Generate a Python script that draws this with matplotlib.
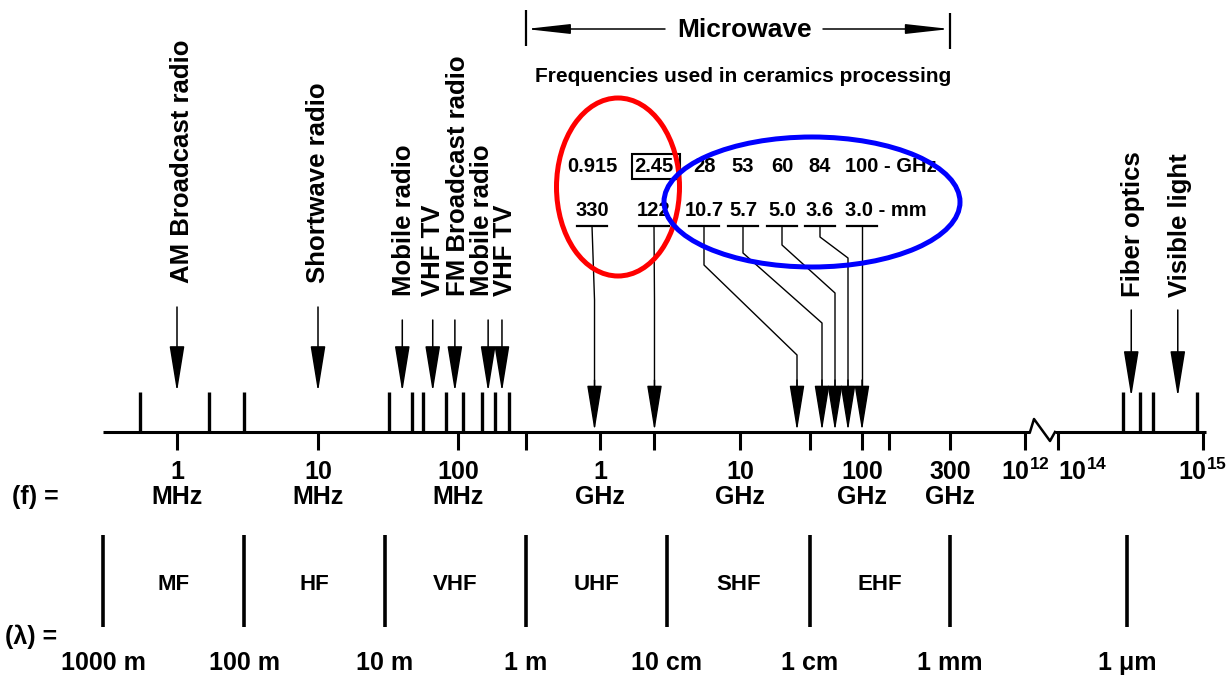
import numpy as np
import matplotlib
matplotlib.use('Agg')
import matplotlib.pyplot as plt
from matplotlib.patches import Ellipse, Rectangle

plt.rcParams['font.family'] = ['Liberation Sans', 'DejaVu Sans']
plt.rcParams['font.weight'] = 'bold'
plt.rcParams['mathtext.fontset'] = 'custom'
plt.rcParams['mathtext.rm'] = 'Liberation Sans:bold'
plt.rcParams['mathtext.default'] = 'rm'

# ---- data ----
services = ['AM Broadcast radio', 'Shortwave radio', 'Mobile radio', 'VHF TV',
            'FM Broadcast radio', 'Mobile radio', 'VHF TV', 'Fiber optics', 'Visible light']
service_hz = [1e6, 1e7, 4.0e7, 6.6e7, 9.5e7, 1.63e8, 2.04e8, 3.2e14, 6.7e14]

band_edge_hz = [5.5e5, 1.7e6, 3.0e6, 3.2e7, 4.7e7, 5.6e7, 8.2e7, 1.08e8, 1.48e8,
                1.82e8, 2.29e8, 2.8e14, 3.7e14, 4.5e14, 9.1e14]

heating_ghz = [0.915, 2.45, 28, 53, 60, 84, 100]
heating_mm = ['330', '122', '10.7', '5.7', '5.0', '3.6', '3.0']

tick_hz = [1e6, 1e7, 1e8, 3e8, 1e9, 2.45e9, 1e10, 3e10, 1e11, 1.4e11, 3e11, 1e12, 1e14, 1e15]
tick_num = ['1', '10', '100', '', '1', '', '10', '', '100', '', '300',
            r'$10^{12}$', r'$10^{14}$', r'$10^{15}$']
tick_unit = ['MHz', 'MHz', 'MHz', '', 'GHz', '', 'GHz', '', 'GHz', '', 'GHz', '', '', '']

bands = ['MF', 'HF', 'VHF', 'UHF', 'SHF', 'EHF']
wavelength_m = [1000, 100, 10, 1, 0.1, 0.01, 0.001, 1e-6]
wavelength_lbl = ['1000 m', '100 m', '10 m', '1 m', '10 cm', '1 cm', '1 mm', '1 \u03bcm']

microwave_hz = [3e8, 3e11]

# ---- hand drawn (non uniform) log frequency axis ----
LOG_AT = np.array([4, 6, 7, 8, 9, 10, np.log10(2.8e10), np.log10(3e10), np.log10(5.3e10),
                   np.log10(6e10), np.log10(8.4e10), 11, np.log10(3e11), 12, 14, 15, 16])
PIX_AT = np.array([-105, 177, 318, 458, 600, 740, 797, 810, 822,
                   835, 848, 862, 950, 1025, 1058, 1203, 1348])


def to_px(f):
    f = np.clip(np.asarray(f, dtype=float), 1e-30, None)
    return np.interp(np.log10(f), LOG_AT, PIX_AT)


def from_px(p):
    return 10 ** np.interp(np.asarray(p, dtype=float), PIX_AT, LOG_AT)


fig = plt.figure(figsize=(12.31, 6.82), dpi=100)
ax = fig.add_axes([0, 0, 1, 1])
ax.set_xscale('function', functions=(to_px, from_px))
ax.set_xlim(from_px(0), from_px(1231))
ax.set_ylim(682, 0)
ax.axis('off')

ov = fig.add_axes([0, 0, 1, 1])
ov.set_xlim(0, 1231)
ov.set_ylim(682, 0)
ov.axis('off')
ov.patch.set_visible(False)

K = 'black'
AXY = 432

# main axis with break
ax.plot([3e5, from_px(1030)], [AXY, AXY], color=K, lw=2.2, solid_capstyle='butt')
ax.plot(from_px([1030, 1034, 1050, 1055]), [AXY, 419, 441, AXY], color=K, lw=1.8)
ax.plot([from_px(1055), 1.05e15], [AXY, AXY], color=K, lw=2.2, solid_capstyle='butt')

ax.vlines(tick_hz, AXY, 450, color=K, lw=2.2)
ax.vlines(band_edge_hz, 392, AXY, color=K, lw=2.4)

for f, n, u in zip(tick_hz, tick_num, tick_unit):
    ha = 'left' if n == r'$10^{14}$' else 'center'
    if n:
        ax.text(f, 472, n, ha=ha, va='center', fontsize=18)
    if u:
        ax.text(f, 497, u, ha='center', va='center', fontsize=18)
ov.text(12, 497, '(f) =', ha='left', va='center', fontsize=18)

# service arrows (labels sit where the drawing put them)
svc_label_x = [180, 316, 402, 431, 456, 480, 503, 1131, 1178]
svc_bottom = [283, 283, 296, 296, 296, 296, 296, 297, 297]
svc_top = [307, 307, 320, 320, 320, 320, 320, 310, 310]
svc_tip = [392] * 7 + [397, 397]
head = '-|>,head_length=2.9,head_width=0.47'
for f, s, lx, yb, yt, ytip in zip(service_hz, services, svc_label_x, svc_bottom, svc_top, svc_tip):
    ov.text(lx + 9, yb, s, rotation=90, rotation_mode='anchor', ha='left', va='baseline',
            fontsize=18.5)
    ax.annotate('', xy=(f, ytip), xytext=(f, yt),
                arrowprops=dict(arrowstyle=head, color=K, lw=1.1, shrinkA=0, shrinkB=0))

# microwave bracket
ax.vlines(microwave_hz[0], 10, 46, color=K, lw=1.6)
ax.vlines(microwave_hz[1], 13, 49, color=K, lw=1.6)
bhead = '-|>,head_length=2.7,head_width=0.3'
ax.annotate('', xy=(microwave_hz[0], 29), xytext=(from_px(665), 29),
            arrowprops=dict(arrowstyle=bhead, color=K, lw=1.1, shrinkA=0, shrinkB=0))
ax.annotate('', xy=(microwave_hz[1], 29), xytext=(from_px(823), 29),
            arrowprops=dict(arrowstyle=bhead, color=K, lw=1.1, shrinkA=0, shrinkB=0))
ov.text(745, 30, 'Microwave', ha='center', va='center', fontsize=19)
ov.text(743, 76, 'Frequencies used in ceramics processing', ha='center', va='center', fontsize=15)

# ceramics processing frequencies
col_x = [592, 654, 704, 743, 782, 820, 862]
bends = [(226, 300), (226, 300), (265, 355), (253, 323), (245, 293), (237, 258), (226, 300)]
for i, (cx, g, mm, (y1, y2)) in enumerate(zip(col_x, heating_ghz, heating_mm, bends)):
    f = g * 1e9
    gtxt = f'{g:g}'
    if i == len(col_x) - 1:
        ov.text(845, 167, gtxt + ' - GHz', ha='left', va='center', fontsize=14.5)
        ov.text(845, 211, mm + ' - mm', ha='left', va='center', fontsize=14.5)
    else:
        ov.text(cx, 167, gtxt, ha='center', va='center', fontsize=14.5)
        ov.text(cx, 211, mm, ha='center', va='center', fontsize=14.5)
    ov.plot([cx - 15, cx + 15], [226, 226], color=K, lw=1.6)
    ax.plot([from_px(cx), from_px(cx), f, f], [226, y1, y2, 395], color=K, lw=1.0)
    ax.annotate('', xy=(f, AXY - 1), xytext=(f, 380),
                arrowprops=dict(arrowstyle=head, color=K, lw=1.0, shrinkA=0, shrinkB=0))

ov.add_patch(Rectangle((632, 154), 48, 25, fill=False, ec=K, lw=1.5))
ov.add_patch(Ellipse((618, 187), 123, 178, fill=False, ec='#ff0000', lw=3.6, zorder=5))
ov.add_patch(Ellipse((812, 202), 296, 130, fill=False, ec='#0000ff', lw=3.6, zorder=5))

# wavelength bands
wave_hz = 3e8 / np.array(wavelength_m)
ax.vlines(wave_hz, 535, 627, color=K, lw=2.6)
for f, s in zip(wave_hz, wavelength_lbl):
    ax.text(f, 663, s, ha='center', va='center', fontsize=18)
mids = from_px((to_px(wave_hz[:6]) + to_px(wave_hz[1:7])) / 2)
for f, s in zip(mids, bands):
    ax.text(f, 585, s, ha='center', va='center', fontsize=16)
ov.text(5, 637, '(\u03bb) =', ha='left', va='center', fontsize=18)

fig.savefig('out.png', dpi=100)
